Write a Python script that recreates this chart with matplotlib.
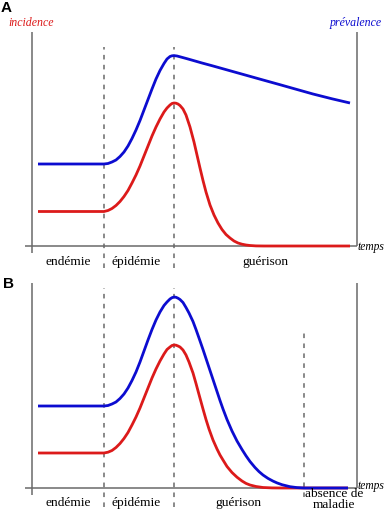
import matplotlib
matplotlib.use("Agg")
import matplotlib.pyplot as plt

# time positions (arbitrary units, 0 = vertical axis)
t_inc_a = [6, 72, 76, 80, 84, 88, 92, 96, 100, 104, 108, 112, 116, 120, 124, 128, 132,
           135, 138, 140, 142, 144, 146, 148, 151, 154, 158, 162, 165, 168, 171, 174,
           178, 182, 186, 190, 194, 198, 202, 206, 210, 214, 218, 224, 232, 318]
incidence_a = [34.5, 34.5, 35.5, 37.5, 40.5, 44.5, 49.5, 55.5, 63, 71, 80, 90, 100, 110,
               119, 127, 134, 138, 141, 142.5, 143, 142.8, 142, 140.5, 137, 131, 119, 104,
               91, 78, 65.5, 54, 41, 31, 23, 16.5, 11.5, 8, 5, 3, 1.8, 1, 0.5, 0.1, 0, 0]

t_prev_a = [6, 72, 76, 80, 84, 88, 92, 96, 100, 104, 108, 112, 116, 120, 124, 128, 132,
            135, 138, 140, 142, 145, 148, 155, 162, 170, 180, 190, 200, 215, 230, 248,
            265, 281, 300, 318]
prevalence_a = [82, 82, 82.5, 84, 86, 89.5, 94, 100, 107.5, 116, 125.5, 136, 146.5, 157,
                167, 175.5, 182.5, 187, 189.5, 190.2, 190.4, 190, 189.2, 187.3, 185.3, 183,
                180.3, 177.5, 174.7, 170.5, 166.3, 161.3, 156.5, 152, 147.2, 143]

t_inc_b = [6, 72, 76, 80, 84, 88, 92, 96, 100, 104, 108, 112, 116, 120, 124, 128, 132,
           135, 138, 140, 142, 144, 146, 148, 151, 154, 157, 161, 164, 167, 171, 174,
           177, 181, 185, 188, 191, 195, 200, 205, 210, 214, 218, 224, 231, 240, 250, 316]
incidence_b = [35, 35, 35.8, 37.5, 40.5, 44.5, 49.5, 55.5, 63, 71, 80, 90, 100, 110, 119,
               127, 134, 138.5, 141, 142.5, 143, 142.8, 142, 141, 138, 133, 126, 115, 104.5,
               93.5, 79, 68.5, 59, 48, 39, 33, 28, 21.5, 15.5, 10.8, 7, 4.6, 3, 1.5, 0.5,
               0.1, 0, 0]

t_prev_b = [6, 72, 76, 80, 84, 88, 92, 96, 100, 104, 108, 112, 116, 120, 124, 128, 132,
            135, 138, 140, 142, 144, 146, 148, 151, 154, 157, 161, 164, 167, 171, 174,
            177, 181, 185, 188, 191, 195, 200, 205, 210, 214, 218, 223, 227, 231, 236,
            241, 245, 250, 258, 265, 272, 316]
prevalence_b = [82, 82, 82.5, 84, 86, 89.5, 94, 100, 107.5, 116, 126, 137, 148, 158.5, 168,
                176, 182.5, 186, 189, 190.3, 191, 190.7, 189.8, 188.5, 185.5, 180.5, 175,
                166.5, 158.5, 150, 138.5, 129.5, 120.5, 108.5, 96.5, 87.5, 79, 68.5, 57,
                47, 38.5, 32.2, 26.5, 20.5, 16.4, 13, 9.6, 6.9, 5.1, 3.3, 1.3, 0.4, 0, 0]

phases_a = ["endémie", "épidémie", "guérison"]
phases_b = ["endémie", "épidémie", "guérison", "absence de", "maladie"]

RED = "#dc1a1a"
BLUE = "#0c0cd0"
GREY = "#6a6a6a"

W, H = 387, 512
fig = plt.figure(figsize=(W / 100, H / 100), dpi=100)


def make_panel(x0, y_axis, y_top, right):
    # axes in which one data unit is one pixel
    ax = fig.add_axes([x0 / W, (H - y_axis) / H, (right - x0) / W, (y_axis - y_top) / H])
    ax.set_xlim(0, right - x0)
    ax.set_ylim(0, y_axis - y_top)
    ax.axis("off")
    w = right - x0
    top = y_axis - y_top
    kw = dict(color=GREY, lw=1.1, clip_on=False, solid_capstyle="butt")
    ax.plot([0, 0], [-7, top], **kw)
    ax.plot([-7, w], [0, 0], **kw)
    ax.plot([w, w], [0, top], **kw)
    return ax


def dashed(ax, x, y0, y1):
    ax.plot([x, x], [y0, y1], color=GREY, lw=1.1, ls=(0, (3, 3.5)), clip_on=False)


def curve(ax, t, v, color):
    ax.plot(t, v, color=color, lw=2.0, clip_on=False,
            solid_capstyle="butt", solid_joinstyle="round")


serif = dict(family=["Liberation Serif", "DejaVu Serif"])

# panel A
ax = make_panel(32, 246, 32, 357)
dashed(ax, 72, -22, 199)
dashed(ax, 142, -22, 199)
curve(ax, t_inc_a, incidence_a, RED)
curve(ax, t_prev_a, prevalence_a, BLUE)
ax.text(-1, 223, "incidence", color=RED, style="italic", fontsize=8.6, ha="center", va="center", **serif)
ax.text(324, 223, "prévalence", color=BLUE, style="italic", fontsize=8.6, ha="center", va="center", **serif)
ax.text(326, -1, "temps", style="italic", fontsize=8.3, ha="left", va="center", **serif)
for xc, lab in zip([36, 104, 233], phases_a):
    ax.text(xc, -16, lab, fontsize=9.6, ha="center", va="center", **serif)

# panel B
ax = make_panel(32, 488, 283, 357)
dashed(ax, 72, -19, 200)
dashed(ax, 142, -19, 200)
dashed(ax, 272, -9, 155)
curve(ax, t_inc_b, incidence_b, RED)
curve(ax, t_prev_b, prevalence_b, BLUE)
ax.text(326, 2.5, "temps", style="italic", fontsize=8.3, ha="left", va="center", **serif)
for xc, yc, lab in zip([36, 104, 206, 302, 302], [-15, -15, -15, -6, -16.5], phases_b):
    ax.text(xc, yc, lab, fontsize=9.6, ha="center", va="center", **serif)

sans = dict(family=["Liberation Sans", "DejaVu Sans"], weight="bold", fontsize=11)
fig.text(0.5 / W, 1 - 0.5 / H, "A", ha="left", va="top", **sans)
fig.text(2.5 / W, 1 - 277 / H, "B", ha="left", va="top", **sans)

fig.savefig("out.png", dpi=100)
